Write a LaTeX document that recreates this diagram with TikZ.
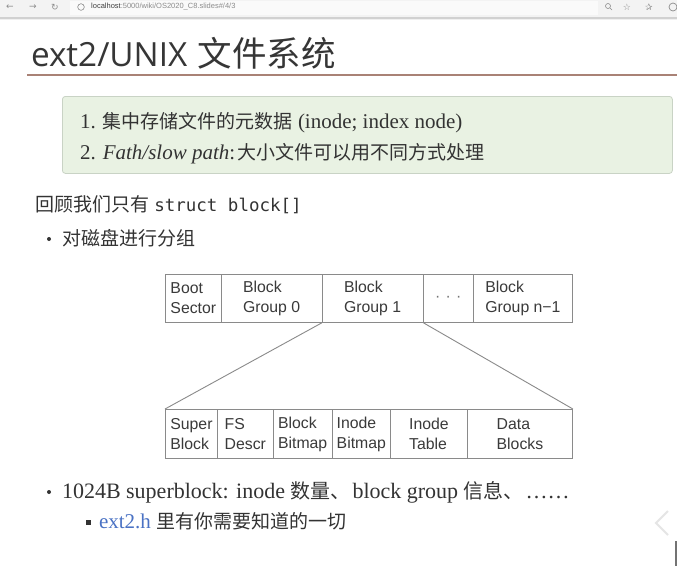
\documentclass[tikz,border=0pt]{standalone}
\usepackage{fontspec}
\setmainfont{Liberation Serif}
\newfontfamily\cjk{Noto Sans CJK SC}
\newfontfamily\titlef{Open Sans}
\newfontfamily\diagf{Liberation Sans}
\newfontfamily\monof{DejaVu Sans Mono}
\newfontfamily\symf{DejaVu Sans}
\definecolor{bodytext}{HTML}{333333}
\definecolor{titletext}{HTML}{363636}
\definecolor{rulecol}{HTML}{A98276}
\definecolor{notefill}{HTML}{E9F2E3}
\definecolor{noteline}{HTML}{C9D3C5}
\definecolor{cellline}{HTML}{8A8A8A}
\definecolor{celltext}{HTML}{3A3A3A}
\definecolor{linkcol}{HTML}{4A72C4}
\definecolor{barfill}{HTML}{F3F3F3}
\definecolor{icon}{HTML}{8C8C8C}
\newcommand\zh[1]{{\cjk\fontsize{19}{25}\selectfont #1}}
\newcommand\zhb[1]{{\cjk\fontsize{20}{25}\selectfont #1}}
\newcommand\bodyfont{\fontsize{21}{25}\selectfont}
\begin{document}
\begin{tikzpicture}[x=1pt,y=-1pt,
  txt/.style={inner sep=0pt, outer sep=0pt, text=bodytext, anchor=base west},
  cell/.style={draw=cellline, line width=0.9pt, inner sep=0pt, minimum height=48pt,
    anchor=north west, text=celltext, align=left,
    font=\diagf\fontsize{15.8}{20}\selectfont},
  link/.style={draw=cellline, line width=0.9pt},
  iconf/.style={inner sep=0pt, text=icon, font=\symf\fontsize{9}{10}\selectfont}]
\useasboundingbox (0,0) rectangle (677,566);
\fill[white] (0,0) rectangle (677,566);

% browser bar
\fill[barfill] (0,0) rectangle (677,17);
\fill[white!60!barfill] (70,1) rectangle (598,15);
\fill[black!18] (0,17) rectangle (677,18.5);
\fill[black!6] (0,18.5) rectangle (677,20);
\node[iconf] (back) at (10,7) {←};
\node[iconf] (fwd) at (33,7) {→};
\node[iconf] (reload) at (55,7) {↻};
\draw[icon, line width=0.6pt] (81,7) circle (3.3);
\node[inner sep=0pt, anchor=west, font=\diagf\fontsize{7.5}{9}\selectfont] (url) at (91,7)
  {\textcolor{black!75}{localhost}\textcolor{black!45}{:5000/wiki/OS2020\_C8.slides\#/4/3}};
\draw[icon, line width=0.6pt] (608,6) circle (2.5) (609.8,7.8) -- (612,10);
\node[iconf] (star) at (627,7.5) {☆};
\node[iconf] (fav) at (649,7.5) {✰};
\draw[icon, line width=0.7pt] (673,7) circle (4);

% title
\node[txt, text=titletext] (title) at (31,66)
  {\titlef\fontsize{33.3}{38}\selectfont ext2/UNIX\hspace{2pt} {\cjk\fontsize{34.5}{38}\selectfont 文件系统}};
\fill[rulecol] (27,74) rectangle (677,75.6);

% green note
\node[draw=noteline, fill=notefill, rounded corners=3pt, line width=0.8pt,
  minimum width=610pt, minimum height=77pt, inner sep=0pt, anchor=north west] (note) at (62,96) {};
\node[txt] (item1) at (80,128) {\bodyfont 1. \zh{集中存储文件的元数据} (inode; index node)};
\node[txt] (item2) at (80,159) {\bodyfont 2. \textit{Fath/slow path}:\hspace{2pt}\zh{大小文件可以用不同方式处理}};

% body
\node[txt] (recall) at (35,211) {\bodyfont\zh{回顾我们只有} {\monof\fontsize{17.5}{20}\selectfont struct block[]}};
\fill[bodytext] (49,239) circle (2);
\node[txt] (group) at (62,245) {\bodyfont\zh{对磁盘进行分组}};

% diagram top row
\node[cell, minimum width=55.7pt] (boot) at (165,274) {Boot\\Sector};
\node[cell, minimum width=101pt] (g0) at (220.7,274) {Block\\Group 0};
\node[cell, minimum width=101pt] (g1) at (321.7,274) {Block\\Group 1};
\node[cell, minimum width=50.3pt] (dots) at (422.7,274) {\textcolor{black!55}{·\,\,·\,\,·}};
\node[cell, minimum width=99pt] (gn) at (473,274) {Block\\Group n−1};

% diagram bottom row
\node[cell, minimum width=52pt, minimum height=49pt] (super) at (165,409) {Super\\Block};
\node[cell, minimum width=55.7pt, minimum height=49pt] (fsd) at (217,409) {FS\\Descr};
\node[cell, minimum width=59pt, minimum height=49pt] (bbm) at (272.7,409) {Block\\Bitmap};
\node[cell, minimum width=58.3pt, minimum height=49pt] (ibm) at (331.7,409) {Inode\\Bitmap};
\node[cell, minimum width=77pt, minimum height=49pt] (itab) at (390,409) {Inode\\Table};
\node[cell, minimum width=105pt, minimum height=49pt] (data) at (467,409) {Data\\Blocks};

\draw[link] (g1.south west) -- (super.north west);
\draw[link] (g1.south east) -- (data.north east);

% bottom bullets
\fill[bodytext] (49,492) circle (2);
\node[txt] (sb) at (62,498) {\fontsize{22}{26}\selectfont 1024B superblock: inode \zhb{数量、}\hspace{2pt}block group \zhb{信息、}\hspace{2pt}……};
\fill[bodytext] (86,520) rectangle (90.5,524.5);
\node[txt] (ext) at (99,528) {\bodyfont{\color{linkcol}ext2.h} \zh{里有你需要知道的一切}};

% slide nav remnants
\draw[black!10, line width=2pt] (668,511) -- (656,523) -- (668,535);
\fill[black!55] (675,541) rectangle (677,566);
\end{tikzpicture}
\end{document}
